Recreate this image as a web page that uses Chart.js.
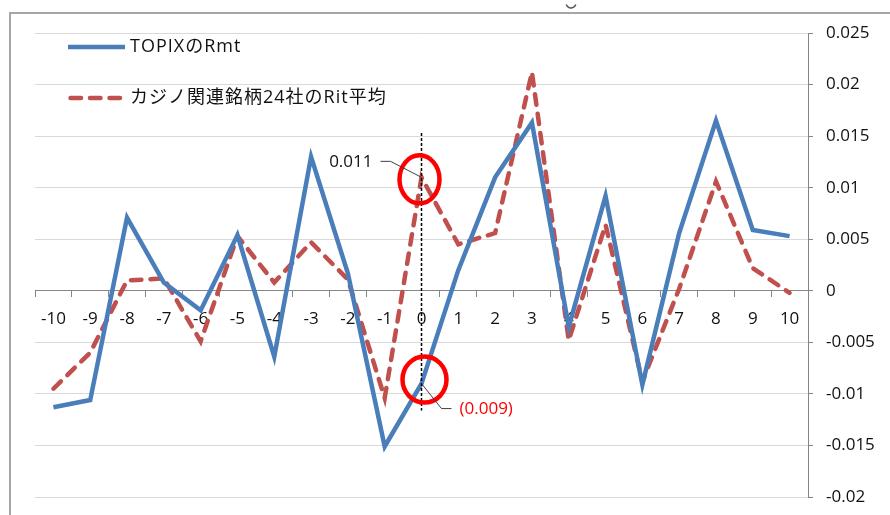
<!DOCTYPE html>
<html lang="ja">
<head>
<meta charset="utf-8">
<title>TOPIXのRmt とカジノ関連銘柄24社のRit平均</title>
<script src="https://cdn.jsdelivr.net/npm/chart.js@4"></script>
<style>
  html, body { margin: 0; padding: 0; background: #fff; }
  #wrap { width: 890px; height: 515px; position: relative; }
  canvas { display: block; }
</style>
</head>
<body>
<div id="wrap"><canvas id="chart" width="890" height="515"></canvas></div>
<script>
// Event window: days relative to the announcement (day 0)
const days = ['-10', '-9', '-8', '-7', '-6', '-5', '-4', '-3', '-2', '-1', '0',
              '1', '2', '3', '4', '5', '6', '7', '8', '9', '10'];

// TOPIX market return Rmt
const topixRmt = [-0.0113, -0.0106, 0.0071, 0.0008, -0.0019, 0.0054, -0.0064, 0.0130, 0.0017, -0.0151, -0.009,
                  0.0020, 0.0110, 0.0163, -0.0035, 0.0092, -0.0091, 0.0056, 0.0165, 0.0059, 0.0053];

// Average return Rit of the 24 casino-related stocks
const casinoRitAvg = [-0.0095, -0.0060, 0.0010, 0.0012, -0.0049, 0.0053, 0.0008, 0.0047, 0.0011, -0.0104, 0.011,
                      0.0045, 0.0056, 0.0212, -0.0048, 0.0064, -0.0088, 0.0002, 0.0106, 0.0022, -0.0002];

const seriesNames = ['TOPIXのRmt', 'カジノ関連銘柄24社のRit平均'];

// Right-hand value axis
const yMin = -0.02;
const yMax = 0.025;
const yStep = 0.005;

const eventDay = '0';

const FONT = "'Open Sans', 'Noto Sans CJK JP', sans-serif";
Chart.defaults.font.family = FONT;
Chart.defaults.font.size = 17;
Chart.defaults.color = '#111';

const fmtNum = v => String(Math.round(v * 1000) / 1000);

// White page, outer chart frame and the tail of the title glyph above it
const framePlugin = {
  id: 'frame',
  beforeDraw(chart) {
    const ctx = chart.ctx;
    ctx.save();
    ctx.fillStyle = '#fff';
    ctx.fillRect(0, 0, chart.width, chart.height);
    ctx.strokeStyle = '#a6a6a6';
    ctx.lineWidth = 2;
    ctx.beginPath();
    ctx.moveTo(10, chart.height);
    ctx.lineTo(10, 13);
    ctx.lineTo(chart.width, 13);
    ctx.stroke();
    ctx.strokeStyle = '#555';
    ctx.lineWidth = 1.5;
    ctx.beginPath();
    ctx.arc(571, 3, 5, 0.1 * Math.PI, 0.9 * Math.PI);
    ctx.stroke();
    ctx.restore();
  }
};

// Legend drawn inside the plot, top-left, one entry per row
const insideLegend = {
  id: 'insideLegend',
  afterDatasetsDraw(chart) {
    const ctx = chart.ctx;
    const rows = [47, 98];
    ctx.save();
    chart.data.datasets.forEach((ds, i) => {
      const y = rows[i];
      ctx.strokeStyle = ds.borderColor;
      ctx.lineWidth = ds.borderWidth;
      ctx.lineCap = ds.borderDash && ds.borderDash.length ? 'round' : 'butt';
      ctx.setLineDash(ds.borderDash || []);
      ctx.beginPath();
      if (ds.borderDash && ds.borderDash.length) {
        ctx.moveTo(70.5, y);
        ctx.lineTo(120, y);
      } else {
        ctx.moveTo(68, y);
        ctx.lineTo(125, y);
      }
      ctx.stroke();
      ctx.setLineDash([]);
      ctx.fillStyle = '#111';
      ctx.font = '18px ' + FONT;
      if ('letterSpacing' in ctx) ctx.letterSpacing = '1px';
      ctx.textAlign = 'left';
      ctx.textBaseline = 'middle';
      ctx.fillText(ds.label, 130, y);
    });
    ctx.restore();
  }
};

// Day-0 marker: dotted vertical line, red rings and value callouts
const eventPlugin = {
  id: 'eventMarker',
  afterDatasetsDraw(chart) {
    const ctx = chart.ctx;
    const xs = chart.scales.x, ys = chart.scales.y;
    const idx = days.indexOf(eventDay);
    const px = xs.getPixelForValue(idx);
    const pyRed = ys.getPixelForValue(casinoRitAvg[idx]);
    const pyBlue = ys.getPixelForValue(topixRmt[idx]);
    ctx.save();

    // dotted vertical line
    ctx.strokeStyle = '#000';
    ctx.lineWidth = 1.5;
    ctx.setLineDash([3, 2]);
    ctx.beginPath();
    ctx.moveTo(px, ys.getPixelForValue(0.0153));
    ctx.lineTo(px, ys.getPixelForValue(-0.0116));
    ctx.stroke();
    ctx.setLineDash([]);

    // red rings
    ctx.strokeStyle = '#ff0000';
    ctx.lineWidth = 4.5;
    ctx.beginPath();
    ctx.ellipse(px - 2, pyRed + 2, 20, 24, 0, 0, Math.PI * 2);
    ctx.stroke();
    ctx.beginPath();
    ctx.ellipse(px + 3, pyBlue - 4, 22, 23, 0, 0, Math.PI * 2);
    ctx.stroke();

    // callout leaders
    ctx.strokeStyle = '#404040';
    ctx.lineWidth = 1;
    ctx.beginPath();
    ctx.moveTo(px, pyRed);
    ctx.lineTo(px - 31, pyRed - 16);
    ctx.lineTo(px - 41, pyRed - 16);
    ctx.stroke();
    ctx.beginPath();
    ctx.moveTo(px, pyBlue);
    ctx.lineTo(px + 20, pyBlue + 25);
    ctx.lineTo(px + 30, pyBlue + 25);
    ctx.stroke();

    // callout texts
    ctx.font = '17px ' + FONT;
    ctx.textBaseline = 'middle';
    ctx.fillStyle = '#111';
    ctx.textAlign = 'right';
    ctx.fillText(casinoRitAvg[idx].toFixed(3), px - 49, pyRed - 15);
    ctx.fillStyle = '#ff0000';
    ctx.textAlign = 'left';
    const v = topixRmt[idx];
    const txt = v < 0 ? '(' + Math.abs(v).toFixed(3) + ')' : v.toFixed(3);
    ctx.fillText(txt, px + 38, pyBlue + 26);
    ctx.restore();
  }
};

new Chart(document.getElementById('chart'), {
  type: 'line',
  data: {
    labels: days,
    datasets: [
      {
        label: seriesNames[0],
        data: topixRmt,
        borderColor: '#4a7ebb',
        borderWidth: 4.5,
        pointRadius: 0,
        tension: 0,
        fill: false
      },
      {
        label: seriesNames[1],
        data: casinoRitAvg,
        borderColor: '#c0504d',
        borderWidth: 4.5,
        borderDash: [10.5, 9],
        borderCapStyle: 'round',
        pointRadius: 0,
        tension: 0,
        fill: false
      }
    ]
  },
  options: {
    responsive: false,
    animation: false,
    events: [],
    layout: { padding: { left: 35, top: 33, right: 0, bottom: 18 } },
    plugins: {
      legend: { display: false },
      tooltip: { enabled: false }
    },
    scales: {
      x: {
        type: 'category',
        position: { y: 0 },
        offset: true,
        grid: {
          display: true,
          drawOnChartArea: false,
          drawTicks: true,
          tickLength: 6,
          offset: true,
          color: '#868686',
          tickColor: '#868686'
        },
        border: { display: true, color: '#868686', width: 1 },
        ticks: { padding: 12, maxRotation: 0, autoSkip: false, color: '#111' },
        afterFit(scale) {
          scale.height = 0;
          scale.paddingLeft = 0;
          scale.paddingRight = 0;
        }
      },
      y: {
        position: 'right',
        min: yMin,
        max: yMax,
        ticks: {
          stepSize: yStep,
          padding: 13,
          color: '#111',
          callback: v => fmtNum(v)
        },
        grid: {
          color: '#d9d9d9',
          tickColor: '#868686',
          tickLength: 5,
          drawTicks: true
        },
        border: { display: true, color: '#868686', width: 1 },
        afterFit(scale) {
          scale.width = 82;
          scale.paddingTop = 0;
          scale.paddingBottom = 0;
        }
      }
    }
  },
  plugins: [framePlugin, insideLegend, eventPlugin]
});
</script>
</body>
</html>
